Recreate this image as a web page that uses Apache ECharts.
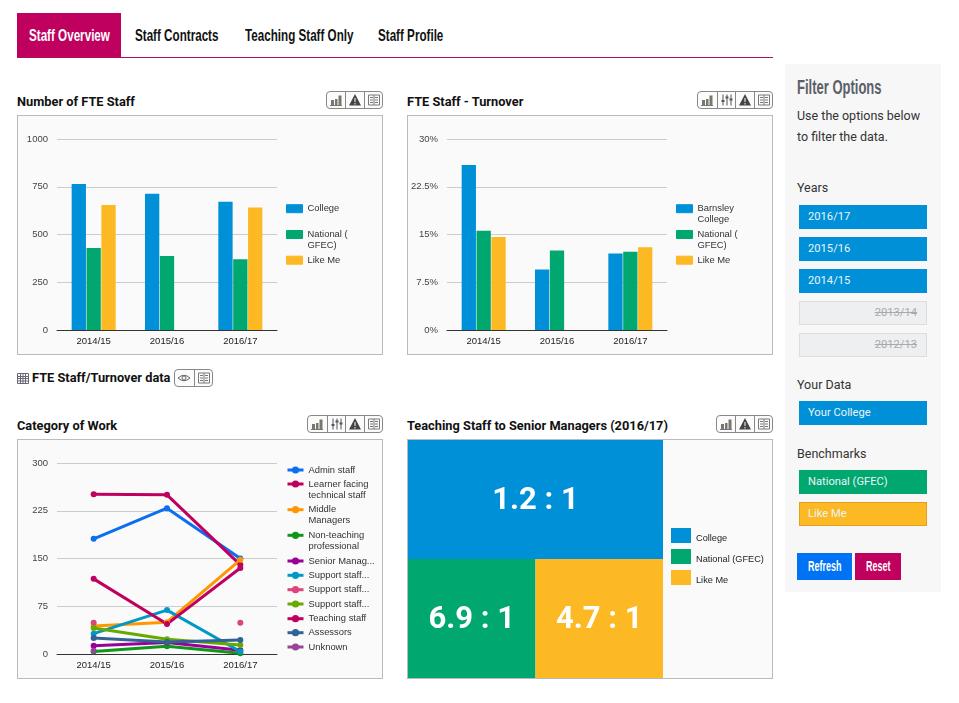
<!DOCTYPE html>
<html>
<head>
<meta charset="utf-8">
<title>Staff Overview</title>
<script src="https://cdn.jsdelivr.net/npm/echarts@6/dist/echarts.min.js"></script>
<style>
html, body { margin: 0; padding: 0; background: #fff; }
body { position: relative; width: 959px; height: 703px; overflow: hidden; font-family: Roboto, sans-serif; color: #222; }
.abs { position: absolute; white-space: nowrap; }
.tab { top: 14px; height: 44px; line-height: 44px; font-family: "Liberation Sans", sans-serif; font-weight: bold; font-size: 17px; color: #111; transform: scaleX(.685); transform-origin: left center; }
.rule { left: 17px; top: 57px; width: 756px; height: 1px; background: #b0105a; }
.title { font-weight: bold; font-size: 12.8px; color: #111; line-height: 16px; }
.box { position: absolute; box-sizing: border-box; width: 366px; height: 240px; border: 1px solid #bbb; background: #fafafa; }
.btns { position: absolute; height: 18px; box-sizing: border-box; border: 1px solid #888; border-radius: 4px; background: #fbfbfb; display: flex; overflow: hidden; }
.btns span { width: 18.5px; height: 16px; box-sizing: border-box; border-left: 1px solid #888; display: block; }
.btns span:first-child { border-left: 0; }
.btns svg { display: block; width: 18px; height: 16px; }
.side { left: 785px; top: 64px; width: 156px; height: 528px; background: #f7f7f7; }
.head { font-family: "Liberation Sans", sans-serif; font-weight: bold; font-size: 20px; color: #5a6068; transform: scaleX(.65); transform-origin: left center; }
.txt { font-size: 12.5px; color: #333; line-height: 18px; }
.opt { position: absolute; left: 799px; width: 128px; height: 24px; line-height: 24px; box-sizing: border-box; padding-left: 9px; font-size: 11.2px; color: #eaf4fa; }
.off { background: #eeeff1; border: 1px solid #ddd; color: #aaa; text-decoration: line-through; text-align: right; padding: 0 9px 0 0; line-height: 22px; }
.act { position: absolute; top: 553px; height: 27px; background: #0073f5; }
.act div { position: absolute; top: 0; line-height: 27px; font-family: "Liberation Sans", sans-serif; font-weight: bold; font-size: 14px; color: #fff; white-space: nowrap; transform: scaleX(.64); transform-origin: left center; }
</style>
</head>
<body>
<div class="abs" style="left:17px;top:13px;width:104px;height:44px;background:#c0005f"></div>
<div class="abs tab" style="left:29px;color:#fff">Staff Overview</div>
<div class="abs tab" style="left:135px">Staff Contracts</div>
<div class="abs tab" style="left:245px">Teaching Staff Only</div>
<div class="abs tab" style="left:378px">Staff Profile</div>
<div class="abs rule"></div>

<div class="abs title" style="left:17px;top:94px">Number of FTE Staff</div>
<div class="abs title" style="left:407px;top:94px">FTE Staff - Turnover</div>
<div class="abs title" style="left:32px;top:370px">FTE Staff/Turnover data</div>
<div class="abs title" style="left:17px;top:418px">Category of Work</div>
<div class="abs title" style="left:407px;top:418px">Teaching Staff to Senior Managers (2016/17)</div>

<div id="btnsA" class="btns" style="right:576px;top:91px"></div>
<div id="btnsB" class="btns" style="right:186px;top:91px"></div>
<div id="btnsC" class="btns" style="left:174px;top:369px"></div>
<div id="btnsD" class="btns" style="right:576px;top:415px"></div>
<div id="btnsE" class="btns" style="right:186px;top:415px"></div>

<svg class="abs" style="left:17px;top:373px" width="12" height="11" viewBox="0 0 12 11"><path d="M0.5 0.5H11.5V10.5H0.5ZM0.5 3.5H11.5M0.5 5.5H11.5M0.5 8H11.5M3.5 0.5V10.5M6 0.5V10.5M8.5 0.5V10.5" fill="none" stroke="#667" stroke-width="1"/></svg>

<div id="staffChart" class="box" style="left:17px;top:115px"></div>
<div id="turnoverChart" class="box" style="left:407px;top:115px"></div>
<div id="workChart" class="box" style="left:17px;top:439px"></div>
<div id="ratioChart" class="box" style="left:407px;top:439px"></div>

<div class="abs side"></div>
<div class="abs head" style="left:797px;top:76px">Filter Options</div>
<div class="abs txt" style="left:797px;top:107px">Use the options below</div>
<div class="abs txt" style="left:797px;top:128px">to filter the data.</div>
<div class="abs txt" style="left:797px;top:179px">Years</div>
<div class="opt" style="top:205px;background:#0090d7">2016/17</div>
<div class="opt" style="top:237px;background:#0090d7">2015/16</div>
<div class="opt" style="top:269px;background:#0090d7">2014/15</div>
<div class="opt off" style="top:301px">2013/14</div>
<div class="opt off" style="top:333px">2012/13</div>
<div class="abs txt" style="left:797px;top:376px">Your Data</div>
<div class="opt" style="top:401px;background:#0090d7">Your College</div>
<div class="abs txt" style="left:797px;top:445px">Benchmarks</div>
<div class="opt" style="top:470px;background:#00a76f">National (GFEC)</div>
<div class="opt" style="top:502px;background:#fdb923;border:1px solid #e0a020;line-height:22px;padding-left:8px">Like Me</div>
<div class="act" style="left:797px;width:55px"><div style="left:11px">Refresh</div></div>
<div class="act" style="left:855px;width:46px;background:#c0005f"><div style="left:11px">Reset</div></div>

<script>
var years = ['2014/15', '2015/16', '2016/17'];

var fteCollege = [764, 713, 672];
var fteNational = [429, 387, 370];
var fteLikeMe = [654, null, 642];

var turnoverCollege = [25.9, 9.5, 12.0];
var turnoverNational = [15.6, 12.5, 12.3];
var turnoverLikeMe = [14.6, null, 13.0];

var adminStaff = [181, 229, 150];
var learnerFacing = [251, 250, 140];
var middleManagers = [44, 50, 148];
var nonTeaching = [4, 12, 1];
var seniorManagers = [13, 18, 6];
var supportStaffA = [32, 69, 4];
var supportStaffB = [49, null, 49];
var supportStaffC = [41, 23, 14];
var teachingStaff = [118, 47, 135];
var assessors = [25, 19, 22];
var unknownStaff = [5, null, null];

var ratioLabels = ['1.2 : 1', '6.9 : 1', '4.7 : 1'];
// share of the tile width in each row
var ratioWidths = [2, 1, 1];
var ratioRows = ['lower', 'upper'];

var blue = '#0090d7', green = '#00a76f', yellow = '#fdb923';
var textFont = '"Liberation Sans", Arial, sans-serif';

// tool buttons above the charts
var icons = {
    bars: '<path d="M4 13V8H7V13ZM8 13V7H10.5V13ZM11.5 13V3.5H14.5V13Z" fill="#7a766e"/><path d="M3 13.5H15" stroke="#777"/>',
    sliders: '<path d="M5 2.5V13.5M9 2.5V13.5M13 2.5V13.5" stroke="#555"/><path d="M3.5 9H6.5M7.5 5.5H10.5M11.5 7.5H14.5" stroke="#555" stroke-width="2"/>',
    warn: '<path d="M9 2L15 13.5H3Z" fill="#444"/><path d="M9 6V10M9 11V12.5" stroke="#fff"/>',
    book: '<path d="M3.5 3H14.5V13H3.5ZM9 3V13M5 5.5H8M5 8H8M5 10.5H8M10 5.5H13M10 8H13M10 10.5H13" fill="none" stroke="#777"/>',
    eye: '<path d="M3 8Q9 2.5 15 8Q9 13.5 3 8Z" fill="none" stroke="#666"/><circle cx="9" cy="8" r="2" fill="none" stroke="#666"/>'
};

function addButtons(id, names) {
    document.getElementById(id).innerHTML = names.map(function (n) {
        return '<span><svg viewBox="0 0 18 16">' + icons[n] + '</svg></span>';
    }).join('');
}
addButtons('btnsA', ['bars', 'warn', 'book']);
addButtons('btnsB', ['bars', 'sliders', 'warn', 'book']);
addButtons('btnsC', ['eye', 'book']);
addButtons('btnsD', ['bars', 'sliders', 'warn', 'book']);
addButtons('btnsE', ['bars', 'warn', 'book']);

// one legend per series. centre = y of the key. Wrapped labels get a blank
// first line so that their first real line sits next to the key.
function legendItem(name, label, centre) {
    var wrapped = label.indexOf('\n') >= 0;
    return {
        data: [name],
        left: 268,
        top: centre - (wrapped ? 16.5 : 5.5),
        itemWidth: 16,
        itemHeight: 9,
        itemGap: 0,
        padding: 0,
        selectedMode: false,
        formatter: function () { return wrapped ? '\n' + label : label; },
        textStyle: { fontFamily: textFont, fontSize: 9.4, color: '#333', lineHeight: 11 }
    };
}

function baseAxes(yMax, yStep, ySuffix) {
    return {
        grid: { left: 39, top: 23, width: 220, height: 191 },
        xAxis: {
            type: 'category',
            data: years,
            axisTick: { show: false },
            axisLine: { lineStyle: { color: '#333', width: 1 } },
            axisLabel: { fontFamily: textFont, fontSize: 9.5, color: '#222', margin: 6 }
        },
        yAxis: {
            type: 'value',
            min: 0,
            max: yMax,
            interval: yStep,
            axisLine: { show: false },
            axisTick: { show: false },
            splitLine: { lineStyle: { color: '#ccc', width: 1 } },
            axisLabel: {
                fontFamily: textFont,
                fontSize: 9.5,
                color: '#444',
                margin: 9,
                formatter: function (v) { return v + ySuffix; }
            }
        }
    };
}

function barChart(id, names, labels, values, yMax, yStep, ySuffix) {
    var option = baseAxes(yMax, yStep, ySuffix);
    var colors = [blue, green, yellow];
    var centres = [92.7, 118.5, 144.2];
    option.animation = false;
    option.legend = names.map(function (n, i) {
        var item = legendItem(n, labels[i], centres[i]);
        item.icon = 'rect';
        item.itemHeight = 8;
        item.itemStyle = { borderWidth: 1, borderColor: colors[i] };
        return item;
    });
    option.series = names.map(function (n, i) {
        return {
            name: n,
            type: 'bar',
            data: values[i],
            barCategoryGap: '40%',
            barGap: '4%',
            itemStyle: { color: colors[i] }
        };
    });
    echarts.init(document.getElementById(id)).setOption(option);
}

barChart('staffChart', ['College', 'National (GFEC)', 'Like Me'], ['College', 'National (\nGFEC)', 'Like Me'],
    [fteCollege, fteNational, fteLikeMe], 1000, 250, '');
barChart('turnoverChart', ['Barnsley College', 'National (GFEC)', 'Like Me'], ['Barnsley\nCollege', 'National (\nGFEC)', 'Like Me'],
    [turnoverCollege, turnoverNational, turnoverLikeMe], 30, 7.5, '%');

// category of work lines
var workNames = ['Admin staff', 'Learner facing technical staff', 'Middle Managers', 'Non-teaching professional',
    'Senior Managers', 'Support staff A', 'Support staff B', 'Support staff C', 'Teaching staff', 'Assessors', 'Unknown'];
var workLabels = ['Admin staff', 'Learner facing\ntechnical staff', 'Middle\nManagers', 'Non-teaching\nprofessional',
    'Senior Manag...', 'Support staff...', 'Support staff...', 'Support staff...', 'Teaching staff', 'Assessors', 'Unknown'];
var workValues = [adminStaff, learnerFacing, middleManagers, nonTeaching, seniorManagers, supportStaffA,
    supportStaffB, supportStaffC, teachingStaff, assessors, unknownStaff];
var workColors = ['#0a6ff0', '#c0005f', '#ff9800', '#109618', '#990099', '#0099c6', '#dd4477', '#66aa00', '#c0005f', '#316395', '#994499'];
var workCentres = [30, 44, 69.7, 95.3, 121, 135.3, 149.7, 164, 178.7, 192.7, 207];

var workOption = baseAxes(300, 75, '');
workOption.animation = false;
workOption.legend = workNames.map(function (n, i) {
    var item = legendItem(n, workLabels[i], workCentres[i]);
    item.lineStyle = { width: 3 };
    return item;
});
workOption.series = workNames.map(function (n, i) {
    return {
        name: n,
        type: 'line',
        data: workValues[i],
        showAllSymbol: true,
        symbol: 'circle',
        symbolSize: 6,
        itemStyle: { color: workColors[i] },
        lineStyle: { color: workColors[i], width: 3 }
    };
});
echarts.init(document.getElementById('workChart')).setOption(workOption);

// ratio tiles: two rows stacked edge to edge
var ratioNames = ['College', 'National (GFEC)', 'Like Me'];
var ratioColors = [blue, green, yellow];
var ratioRowOf = [1, 0, 0];
var ratioCentres = [95.5, 116.5, 137.5];
var ratioOption = {
    animation: false,
    grid: { left: 0, top: 0, width: 255, height: 240 },
    xAxis: { type: 'value', min: 0, max: 2, show: false },
    yAxis: { type: 'category', data: ratioRows, show: false },
    legend: ratioNames.map(function (n, i) {
        return {
            data: [n],
            left: 263,
            top: ratioCentres[i] - 7.5,
            icon: 'rect',
            itemWidth: 20,
            itemHeight: 15,
            padding: 0,
            selectedMode: false,
            // blank first line pushes the label just below the middle of the key
            formatter: function (name) { return '\n' + name; },
            textStyle: { fontFamily: textFont, fontSize: 9.2, color: '#222', lineHeight: 6 }
        };
    }),
    series: ratioNames.map(function (n, i) {
        var row = [null, null];
        row[ratioRowOf[i]] = ratioWidths[i];
        return {
            name: n,
            type: 'bar',
            stack: 'tiles',
            barCategoryGap: 0,
            barWidth: '100%',
            data: row,
            itemStyle: { color: ratioColors[i] },
            label: {
                show: true,
                position: 'inside',
                offset: [0, 2],
                formatter: ratioLabels[i],
                fontFamily: 'Roboto',
                fontWeight: 'bold',
                fontSize: 31,
                color: '#fff'
            }
        };
    })
};
echarts.init(document.getElementById('ratioChart')).setOption(ratioOption);
</script>
</body>
</html>
